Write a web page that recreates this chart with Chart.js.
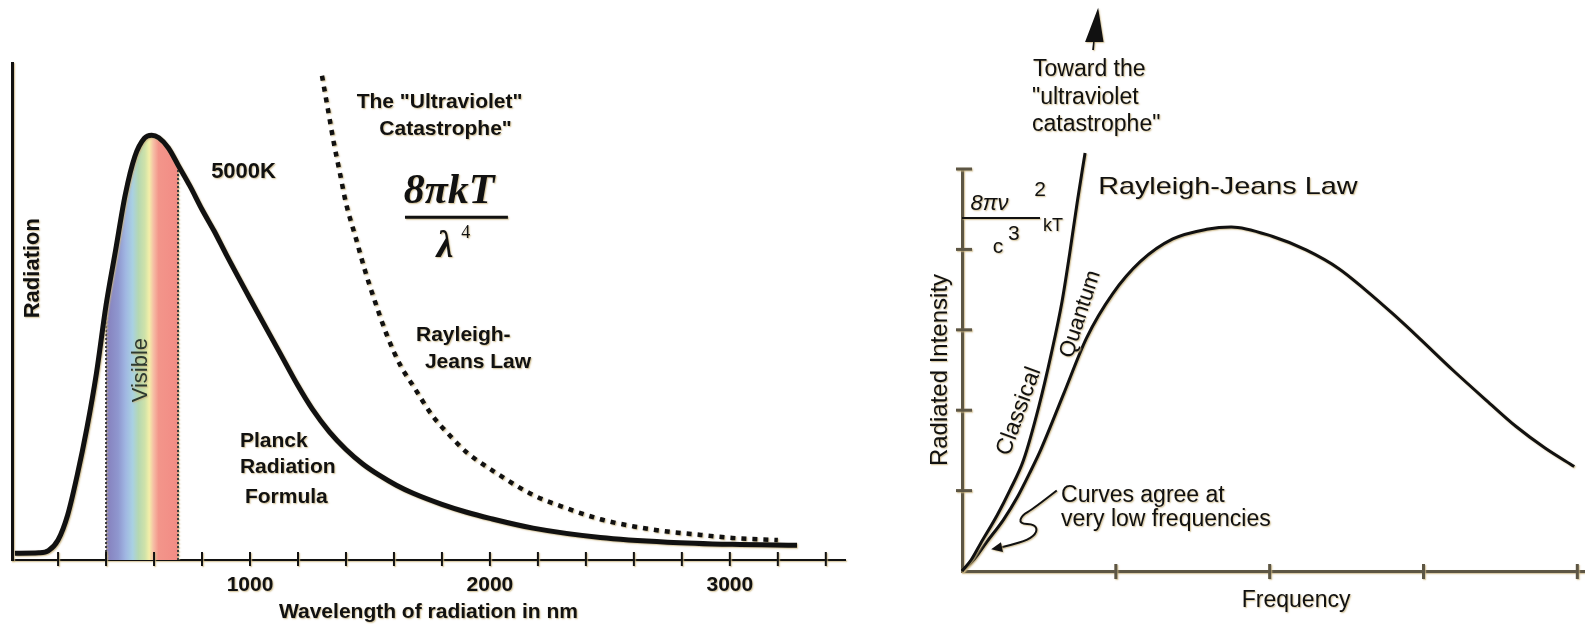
<!DOCTYPE html>
<html>
<head>
<meta charset="utf-8">
<script src="https://cdn.jsdelivr.net/npm/chart.js@4.4.1/dist/chart.umd.min.js"></script>
<style>
  html, body { margin: 0; padding: 0; background: #fff; width: 1585px; height: 624px; overflow: hidden; }
  #planck { position: absolute; left: 0; top: 0; }
  #rayleigh { position: absolute; left: 880px; top: 0; }
</style>
</head>
<body>
<canvas id="planck" width="860" height="624"></canvas>
<canvas id="rayleigh" width="705" height="624"></canvas>
<script>
// ---- Left panel: 5000 K blackbody spectrum against wavelength ----
const wavelengthNm = [20, 120, 160, 200, 240, 280, 320, 360, 400, 440, 480, 520, 560, 590, 620, 660, 700, 750, 800, 850,
                      900, 1000, 1125, 1200, 1260, 1330, 1400, 1470, 1540, 1610, 1680, 1800, 1900, 2000, 2180, 2460,
                      2740, 3010, 3280];
const planckRadiance = [1.6, 1.7, 2.2, 4.7, 10.6, 20, 31, 44, 60, 73, 86, 95, 99.3, 100, 99.4, 97, 93, 88, 82.5, 77.5,
                        72, 61.5, 48.7, 41, 35.5, 30.2, 26, 22.6, 19.9, 17.6, 15.7, 13.1, 11.3, 9.8, 7.5, 5.3,
                        4.2, 3.7, 3.5];
const rjWavelengthNm = [1300, 1325, 1350, 1375, 1400, 1440, 1480, 1520, 1570, 1625, 1680, 1760, 1830, 1900, 2040, 2180,
                        2320, 2460, 2600, 2740, 2880, 3010, 3200];
const rjRadiance = [114, 106, 98, 91, 84, 76, 68, 61, 53, 46, 41, 34, 29.5, 25.5, 20, 15.3, 12.2, 9.6, 7.9, 6.7, 5.9, 5.2, 4.7];
const visibleBandNm = [400, 700];
const wavelengthTicks = [200, 400, 600, 800, 1000, 1200, 1400, 1600, 1800, 2000, 2200, 2400, 2600, 2800, 3000, 3200, 3400];
const wavelengthLabels = [1000, 2000, 3000];

// ---- Right panel: classical vs quantum intensity against frequency ----
const quantumFreq = [0, 0.08, 0.16, 0.27, 0.36, 0.44, 0.51, 0.66, 0.81, 0.98, 1.16, 1.37, 1.59, 1.75, 2.02, 2.24, 2.45,
                     2.62, 2.8, 2.97, 3.19, 3.41, 3.6, 3.79, 3.98];
const quantumIntensity = [0, 0.15, 0.36, 0.64, 0.92, 1.22, 1.5, 2.2, 2.9, 3.45, 3.85, 4.13, 4.25, 4.28, 4.16, 3.99, 3.76,
                          3.5, 3.2, 2.9, 2.5, 2.12, 1.8, 1.53, 1.3];
const classicalFreq = [0, 0.06, 0.12, 0.23, 0.31, 0.4, 0.5, 0.58, 0.65, 0.7, 0.75, 0.8];
const classicalIntensity = [0, 0.14, 0.34, 0.7, 1.0, 1.38, 2.05, 2.7, 3.35, 3.95, 4.6, 5.2];
const frequencyTicks = [1, 2, 3, 4];
const intensityTicks = [1, 2, 3, 4, 5];

// ---- Styling ----
const SANS = '"Liberation Sans", Arial, Helvetica, sans-serif';
const SERIF = '"Liberation Serif", "Times New Roman", serif';
const INK = '#111111';
const AXIS_BROWN = '#5d5644';
const spectrumStops = [
  [0.00, '#857fbc'], [0.17, '#8f97cf'], [0.27, '#a0b6e2'], [0.37, '#a9d1e2'], [0.45, '#b5d8b2'],
  [0.54, '#cfe2a9'], [0.60, '#f3efa9'], [0.66, '#f6bda5'], [0.73, '#f3958a'], [1.00, '#f28c85']
];

function halo(ctx) {
  ctx.shadowColor = 'rgba(201,180,128,0.85)';
  ctx.shadowBlur = 1.5;
  ctx.shadowOffsetX = 1;
  ctx.shadowOffsetY = 1;
}

const toPoints = (xs, ys) => xs.map((x, i) => ({ x, y: ys[i] }));

function spectrumFill(chart) {
  const area = chart.chartArea;
  const xs = chart.scales.x;
  if (!area || !xs) return 'rgba(0,0,0,0)';
  const span = area.right - area.left;
  const f0 = (xs.getPixelForValue(visibleBandNm[0]) - area.left) / span;
  const f1 = (xs.getPixelForValue(visibleBandNm[1]) - area.left) / span;
  const g = chart.ctx.createLinearGradient(area.left, 0, area.right, 0);
  const clear = 'rgba(255,255,255,0)';
  g.addColorStop(0, clear);
  g.addColorStop(f0, clear);
  spectrumStops.forEach(([t, c]) => g.addColorStop(f0 + t * (f1 - f0), c));
  g.addColorStop(f1, clear);
  g.addColorStop(1, clear);
  return g;
}

// Text, rules, arrows and crossing tick marks placed in data coordinates
function annotations(cfg) {
  return {
    id: 'annotations',
    beforeDraw(chart) { chart.ctx.save(); halo(chart.ctx); },
    afterDatasetsDraw(chart) {
      const { ctx, chartArea: area } = chart;
      const X = v => chart.scales.x.getPixelForValue(v);
      const Y = v => chart.scales.y.getPixelForValue(v);

      // tick marks crossing the axes
      const t = cfg.ticks;
      ctx.save();
      ctx.strokeStyle = t.color;
      ctx.lineWidth = t.width;
      chart.scales.x.ticks.forEach(tk => {
        const p = X(tk.value);
        ctx.beginPath(); ctx.moveTo(p, area.bottom - t.up); ctx.lineTo(p, area.bottom + t.down); ctx.stroke();
      });
      if (t.yOut !== undefined) {
        chart.scales.y.ticks.forEach(tk => {
          const p = Y(tk.value);
          ctx.beginPath(); ctx.moveTo(area.left - t.yOut, p); ctx.lineTo(area.left + t.yIn, p); ctx.stroke();
        });
      }
      ctx.restore();

      // horizontal fraction rules
      (cfg.rules || []).forEach(r => {
        ctx.save();
        ctx.strokeStyle = INK; ctx.lineWidth = r.width;
        ctx.beginPath(); ctx.moveTo(X(r.x0), Y(r.y)); ctx.lineTo(X(r.x1), Y(r.y)); ctx.stroke();
        ctx.restore();
      });

      // filled arrowheads given as polygons
      (cfg.polygons || []).forEach(poly => {
        ctx.save();
        ctx.fillStyle = INK;
        ctx.beginPath();
        poly.forEach(([a, b], i) => (i ? ctx.lineTo(X(a), Y(b)) : ctx.moveTo(X(a), Y(b))));
        ctx.closePath(); ctx.fill();
        ctx.restore();
      });

      // smooth pointer lines ending in an arrowhead
      (cfg.pointers || []).forEach(path => {
        const pts = path.map(([a, b]) => [X(a), Y(b)]);
        ctx.save();
        ctx.strokeStyle = INK; ctx.fillStyle = INK; ctx.lineWidth = 2; ctx.lineJoin = 'round';
        ctx.beginPath();
        ctx.moveTo(pts[0][0], pts[0][1]);
        for (let i = 1; i < pts.length - 1; i++) {
          const mx = (pts[i][0] + pts[i + 1][0]) / 2, my = (pts[i][1] + pts[i + 1][1]) / 2;
          ctx.quadraticCurveTo(pts[i][0], pts[i][1], mx, my);
        }
        const end = pts[pts.length - 1], prev = pts[pts.length - 2];
        ctx.lineTo(end[0], end[1]);
        ctx.stroke();
        const ang = Math.atan2(end[1] - prev[1], end[0] - prev[0]);
        ctx.translate(end[0], end[1]); ctx.rotate(ang);
        ctx.beginPath(); ctx.moveTo(4, 0); ctx.lineTo(-7, -5); ctx.lineTo(-7, 5); ctx.closePath(); ctx.fill();
        ctx.restore();
      });

      // text labels
      cfg.notes.forEach(n => {
        ctx.save();
        ctx.translate(X(n.x), Y(n.y));
        if (n.rot) ctx.rotate(n.rot * Math.PI / 180);
        if (n.sx) ctx.scale(n.sx, 1);
        ctx.font = n.font;
        ctx.fillStyle = n.color || INK;
        ctx.textAlign = n.align || 'left';
        ctx.textBaseline = n.base || 'alphabetic';
        ctx.fillText(n.text, 0, 0);
        ctx.restore();
      });
    },
    afterDraw(chart) { chart.ctx.restore(); }
  };
}

const b21 = `bold 21px ${SANS}`;
const planckNotes = [
  { text: 'Radiation', x: 96, y: 68.7, rot: -90, align: 'center', base: 'middle', font: `bold 22px ${SANS}` },
  { text: 'Visible', x: 546, y: 44.7, rot: -90, align: 'center', base: 'middle', font: `22px ${SANS}`, color: '#2e3a30' },
  { text: '5000K', x: 838, y: 89.9, font: `bold 22px ${SANS}` },
  { text: 'The "Ultraviolet"', x: 1790, y: 106.4, align: 'center', font: b21 },
  { text: 'Catastrophe"', x: 1815, y: 100, align: 'center', font: b21 },
  { text: '8πkT', x: 1830, y: 84, align: 'center', font: `italic bold 42px ${SERIF}` },
  { text: 'λ', x: 1812, y: 71.3, align: 'center', font: `italic bold 38px ${SERIF}` },
  { text: '4', x: 1880, y: 75.8, font: `18px ${SERIF}` },
  { text: 'Rayleigh-', x: 1692, y: 51.5, font: b21 },
  { text: 'Jeans Law', x: 1729, y: 45.1, font: b21 },
  { text: 'Planck', x: 958, y: 26.5, font: b21 },
  { text: 'Radiation', x: 958, y: 20.4, font: b21 },
  { text: 'Formula', x: 979, y: 13.4, font: b21 }
];

const f23 = `23px ${SANS}`;
const rayleighNotes = [
  { text: 'Toward the', x: 0.462, y: 6.158, font: f23 },
  { text: '"ultraviolet', x: 0.455, y: 5.809, font: f23 },
  { text: 'catastrophe"', x: 0.455, y: 5.473, font: f23 },
  { text: 'Rayleigh-Jeans Law', x: 0.885, y: 4.69, font: `24px ${SANS}`, sx: 1.2 },
  { text: '8πν', x: 0.055, y: 4.49, font: `italic 22px ${SANS}` },
  { text: '2', x: 0.47, y: 4.67, font: `21px ${SANS}` },
  { text: 'c', x: 0.2, y: 3.954, font: `21px ${SANS}` },
  { text: '3', x: 0.299, y: 4.116, font: `21px ${SANS}` },
  { text: 'kT', x: 0.527, y: 4.228, font: `18px ${SANS}` },
  { text: 'Classical', x: 0.371, y: 1.986, rot: -70, align: 'center', base: 'middle', font: `23px ${SANS}` },
  { text: 'Quantum', x: 0.77, y: 3.194, rot: -72, align: 'center', base: 'middle', font: `22px ${SANS}` },
  { text: 'Curves agree at', x: 0.644, y: 0.86, font: f23 },
  { text: 'very low frequencies', x: 0.644, y: 0.565, font: f23 },
  { text: 'Frequency', x: 2.172, y: -0.367, align: 'center', base: 'middle', font: `23px ${SANS}` }
];

const commonOptions = {
  responsive: false,
  devicePixelRatio: 1,
  animation: false,
  events: [],
  plugins: { legend: { display: false }, tooltip: { enabled: false }, filler: { drawTime: 'beforeDatasetsDraw' } },
  elements: { point: { radius: 0 } }
};

new Chart(document.getElementById('planck'), {
  type: 'line',
  data: {
    datasets: [
      {
        label: 'Planck radiation formula',
        data: toPoints(wavelengthNm, planckRadiance),
        borderColor: INK, borderWidth: 5, fill: 'origin',
        backgroundColor: ctx => spectrumFill(ctx.chart),
        cubicInterpolationMode: 'monotone'
      },
      {
        label: 'Rayleigh-Jeans law',
        data: toPoints(rjWavelengthNm, rjRadiance),
        borderColor: INK, borderWidth: 4.5, borderDash: [5, 6], fill: false,
        cubicInterpolationMode: 'monotone'
      },
      ...visibleBandNm.map(nm => ({
        label: `${nm} nm`,
        data: [{ x: nm, y: 0 }, { x: nm, y: planckRadiance[wavelengthNm.indexOf(nm)] }],
        borderColor: '#3b3b3b', borderWidth: 2, borderDash: [2, 2], fill: false
      }))
    ]
  },
  options: {
    ...commonOptions,
    layout: { padding: { left: 12, top: 63, right: 15, bottom: 1 } },
    scales: {
      x: {
        type: 'linear', min: 8, max: 3480,
        afterBuildTicks: s => { s.ticks = wavelengthTicks.map(v => ({ value: v })); },
        grid: { display: false, drawTicks: false },
        border: { display: true, color: INK, width: 2 },
        ticks: {
          autoSkip: false, maxRotation: 0, padding: 15, color: INK,
          font: { family: SANS, size: 21, weight: 'bold', lineHeight: 1 },
          callback: v => (wavelengthLabels.includes(v) ? String(v) : '')
        },
        title: {
          display: true, text: 'Wavelength of radiation in nm', color: INK,
          font: { family: SANS, size: 21, weight: 'bold', lineHeight: 1 }, padding: { top: -9, bottom: 0 }
        }
      },
      y: {
        type: 'linear', min: 0, max: 117,
        grid: { display: false, drawTicks: false },
        border: { display: true, color: INK, width: 3 },
        ticks: { display: false }
      }
    }
  },
  plugins: [annotations({
    notes: planckNotes,
    rules: [{ x0: 1646, x1: 2075, y: 80.7, width: 3 }],
    ticks: { color: INK, width: 2, up: 8, down: 6 }
  })]
});

new Chart(document.getElementById('rayleigh'), {
  type: 'line',
  data: {
    datasets: [
      {
        label: 'Classical',
        data: toPoints(classicalFreq, classicalIntensity),
        borderColor: INK, borderWidth: 3, fill: false, clip: false,
        cubicInterpolationMode: 'monotone'
      },
      {
        label: 'Quantum',
        data: toPoints(quantumFreq, quantumIntensity),
        borderColor: INK, borderWidth: 3, fill: false, clip: false,
        cubicInterpolationMode: 'monotone'
      }
    ]
  },
  options: {
    ...commonOptions,
    layout: { padding: { left: 48, top: 169, right: 0, bottom: 53 } },
    scales: {
      x: {
        type: 'linear', min: 0, max: 4.05,
        afterBuildTicks: s => { s.ticks = frequencyTicks.map(v => ({ value: v })); },
        grid: { display: false, drawTicks: false },
        border: { display: true, color: AXIS_BROWN, width: 3 },
        ticks: { display: false }
      },
      y: {
        type: 'linear', min: 0, max: 5,
        afterBuildTicks: s => { s.ticks = intensityTicks.map(v => ({ value: v })); },
        grid: { display: false, drawTicks: false },
        border: { display: true, color: AXIS_BROWN, width: 3 },
        ticks: { display: false },
        title: {
          display: true, text: 'Radiated Intensity', color: INK,
          font: { family: SANS, size: 24, lineHeight: 1 }, padding: { top: 0, bottom: 10 }
        }
      }
    }
  },
  plugins: [annotations({
    notes: rayleighNotes,
    rules: [{ x0: 0, x1: 0.507, y: 4.39, width: 2 }],
    polygons: [[[0.885, 7.005], [0.80, 6.58], [0.852, 6.58], [0.846, 6.48], [0.858, 6.48], [0.862, 6.58], [0.92, 6.58]]],
    pointers: [[[0.616, 1.002], [0.464, 0.775], [0.388, 0.691], [0.373, 0.588], [0.475, 0.579], [0.49, 0.483],
                [0.431, 0.389], [0.312, 0.318], [0.215, 0.28]]],
    ticks: { color: AXIS_BROWN, width: 3, up: 7, down: 8, yOut: 6, yIn: 10 }
  })]
});
</script>
</body>
</html>
